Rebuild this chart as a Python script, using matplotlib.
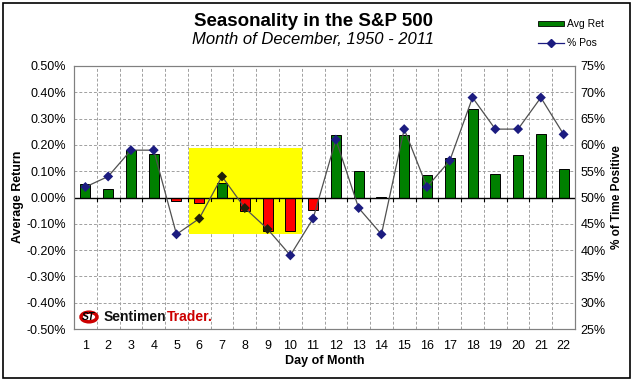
import matplotlib
matplotlib.use('Agg')
import matplotlib.pyplot as plt
import numpy as np
from matplotlib import font_manager
from matplotlib.patches import Rectangle, Circle
from matplotlib.lines import Line2D
from matplotlib.ticker import FuncFormatter, MultipleLocator

plt.rcParams['font.family'] = ['Liberation Sans', 'DejaVu Sans']

# data
days = list(range(1, 23))
avg_ret = [0.050, 0.033, 0.182, 0.167, -0.015, -0.020, 0.057, -0.050, -0.128, -0.127, -0.046,
           0.236, 0.099, 0.003, 0.236, 0.087, 0.152, 0.335, 0.091, 0.163, 0.243, 0.110]
pct_pos = [52, 54, 59, 59, 43, 46, 54, 48, 44, 39, 46,
           61, 48, 43, 63, 52, 57, 69, 63, 63, 69, 62]
box_days = (6, 10)      # highlighted stretch
box_range = (-0.137, 0.19)

W, H = 636, 383
fig = plt.figure(figsize=(W / 100, H / 100), dpi=100)
fig.patch.set_facecolor('white')
fig.patches.append(Rectangle((3 / W, 5 / H), 627 / W, 375 / H, transform=fig.transFigure,
                             fill=False, edgecolor='black', linewidth=1.2))

ax = fig.add_axes([74 / W, 54 / H, 501 / W, 263 / H])
ax2 = ax.twinx()

ax.set_xlim(0.5, 22.5)
ax.set_ylim(-0.5, 0.5)
ax2.set_ylim(25, 75)

# grid
for x in np.arange(1.5, 22.5, 1):
    ax.axvline(x, color='#a0a0a0', linestyle=(0, (3, 2)), linewidth=0.7, zorder=0)
for y in np.arange(-0.4, 0.5, 0.1):
    ax.axhline(y, color='#a0a0a0', linestyle=(0, (3, 2)), linewidth=0.7, zorder=0)

# yellow highlight box
ax.add_patch(Rectangle((box_days[0] - 0.46, box_range[0]), box_days[1] - box_days[0] + 0.96,
                       box_range[1] - box_range[0], facecolor='#ffff00', edgecolor='none', zorder=1))

colors = ['#008000' if v >= 0 else '#ff0000' for v in avg_ret]
ax.bar(days, avg_ret, width=0.44, color=colors, edgecolor='black', linewidth=0.7, zorder=2)

# zero line with small ticks
ax.axhline(0, color='black', linewidth=1, zorder=3)
for x in np.arange(1.5, 22.5, 1):
    ax.plot([x, x], [0, -0.012], color='black', linewidth=0.8, zorder=3)

ax.yaxis.set_major_locator(MultipleLocator(0.1))
ax.yaxis.set_major_formatter(FuncFormatter(lambda v, p: f'{v:.2f}%'))
ax.set_xticks(days)
ax.tick_params(axis='x', length=0, labelsize=9, pad=8)
ax.tick_params(axis='y', length=0, labelsize=9, pad=6)
ax2.yaxis.set_major_locator(MultipleLocator(5))
ax2.yaxis.set_major_formatter(FuncFormatter(lambda v, p: f'{v:.0f}%'))
ax2.tick_params(axis='y', length=0, labelsize=9, pad=4)

ax2.plot(days, pct_pos, color='#505050', linewidth=0.9, zorder=4)
# markers under the yellow box look darkened in the original
lo_pct = 50 + box_range[0] * 50
hi_pct = 50 + box_range[1] * 50
mcols = ['#20200a' if (box_days[0] <= d <= box_days[1] and lo_pct <= p <= hi_pct) else '#1c1c80'
         for d, p in zip(days, pct_pos)]
ax2.scatter(days, pct_pos, marker='D', s=26, c=mcols, zorder=5, linewidths=0)

ax2.set_zorder(ax.get_zorder() + 1)
ax2.patch.set_visible(False)
for a in (ax, ax2):
    for s in a.spines.values():
        s.set_color('#808080')
        s.set_linewidth(0.8)

ax.set_xlabel('Day of Month', fontsize=9, fontweight='bold')
ax.xaxis.set_label_coords(0.5, -(361 - 329) / 263)
ax.xaxis.label.set_va('center')
fig.text(18 / W, 1 - 197 / H, 'Average Return', rotation=90, ha='center', va='center',
         fontsize=9, fontweight='bold')
fig.text(617 / W, 1 - 197 / H, '% of Time Positive', rotation=90, ha='center', va='center',
         fontsize=8.5, fontweight='bold')

fig.text(314 / W, 1 - 22 / H, 'Seasonality in the S&P 500', ha='center', va='center',
         fontsize=13.5, fontweight='bold')
fig.text(313 / W, 1 - 40 / H, 'Month of December, 1950 - 2011', ha='center', va='center',
         fontsize=12, style='italic')

# legend
fig.patches.append(Rectangle((538 / W, 1 - 26 / H), 26 / W, 5 / H, transform=fig.transFigure,
                             facecolor='#008000', edgecolor='black', linewidth=0.6))
fig.text(567 / W, 1 - 24 / H, 'Avg Ret', fontsize=7.5, va='center')
fig.lines.append(Line2D([538 / W, 564 / W], [1 - 43 / H, 1 - 43 / H], transform=fig.transFigure,
                        color='#1c1c80', linewidth=0.9))
fig.lines.append(Line2D([551 / W], [1 - 43 / H], transform=fig.transFigure, marker='D',
                        markersize=4, color='#1c1c80'))
fig.text(567 / W, 1 - 43 / H, '% Pos', fontsize=7.5, va='center')

# logo
names = {f.name for f in font_manager.fontManager.ttflist}
logo_font = 'Liberation Sans Narrow' if 'Liberation Sans Narrow' in names else 'Liberation Sans'
logo_size = 12 if logo_font == 'Liberation Sans Narrow' else 10
fig.patches.append(Circle((89 / W, 1 - 317 / H), 8 / W, transform=fig.transFigure,
                          facecolor='white', edgecolor='#cc0000', linewidth=2.5))
fig.text(89 / W, 1 - 317 / H, 'ST', ha='center', va='center', fontsize=7.5,
         fontweight='bold', style='italic', color='black')
t1 = fig.text(104 / W, 1 - 317 / H, 'Sentimen', va='center', fontsize=logo_size, fontweight='bold',
              family=logo_font, color='#111111')
fig.canvas.draw()
bb = t1.get_window_extent()
fig.text(bb.x1 / W, 1 - 317 / H, 'Trader.', va='center', fontsize=logo_size, fontweight='bold',
         family=logo_font, color='#cc0000')

fig.savefig('out.png', dpi=100)
